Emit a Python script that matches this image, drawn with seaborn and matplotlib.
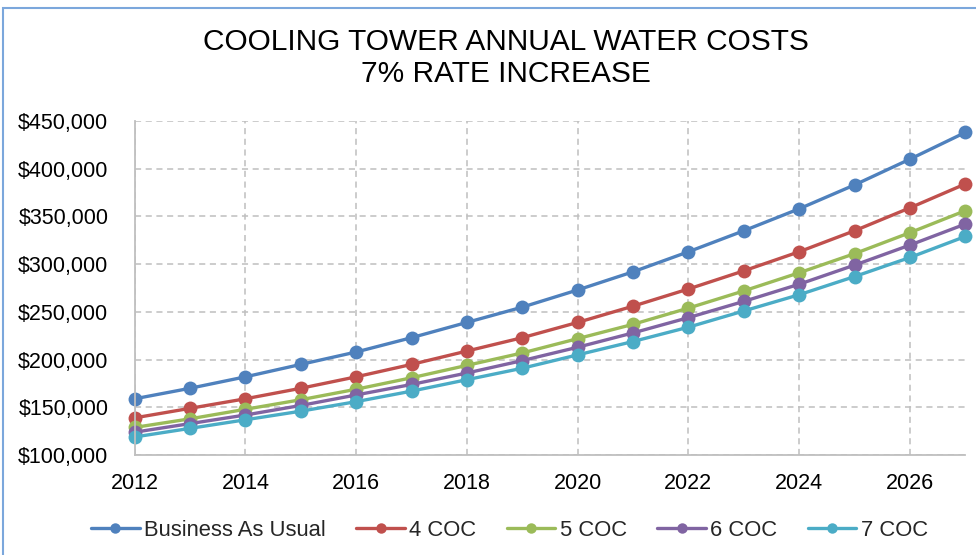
import numpy as np
import pandas as pd
import matplotlib.pyplot as plt
import matplotlib.patches as mpatches
from matplotlib.ticker import FuncFormatter
import seaborn as sns

years = list(range(2012, 2028))
series_names = ["Business As Usual", "4 COC", "5 COC", "6 COC", "7 COC"]
bau = [159000, 170000, 182000, 195000, 208000, 223000, 239000, 255000,
       273000, 292000, 313000, 335000, 358000, 383000, 410000, 438000]
coc4 = [139000, 149000, 159000, 170000, 182000, 195000, 209000, 223000,
        239000, 256000, 274000, 293000, 313000, 335000, 359000, 384000]
coc5 = [129000, 138000, 148000, 158000, 169000, 181000, 194000, 207000,
        222000, 237000, 254000, 272000, 291000, 311000, 333000, 356000]
coc6 = [124000, 133000, 142000, 152000, 163000, 174000, 186000, 199000,
        213000, 228000, 244000, 261000, 279000, 299000, 320000, 342000]
coc7 = [119000, 128000, 137000, 146000, 156000, 167000, 179000, 191000,
        205000, 219000, 234000, 251000, 268000, 287000, 307000, 329000]
colors = ["#4F81BD", "#C0504D", "#9BBB59", "#8064A2", "#4BACC6"]

rows = []
for name, vals in zip(series_names, [bau, coc4, coc5, coc6, coc7]):
    for y, v in zip(years, vals):
        rows.append({"Year": y, "Cost": v, "Series": name})
df = pd.DataFrame(rows)

sns.set_style("white")
plt.rcParams["font.family"] = ["Liberation Sans", "DejaVu Sans"]

fig = plt.figure(figsize=(9.76, 5.55), dpi=100)
ax = fig.add_axes([0.138, 0.180, 0.851, 0.602])

sns.lineplot(data=df, x="Year", y="Cost", hue="Series", hue_order=series_names,
             palette=colors, marker="o", markersize=10, markeredgewidth=0,
             linewidth=2.4, ax=ax, legend=True)

ax.set_xlim(2012, 2027)
ax.set_ylim(100000, 450000)
ax.set_xticks(range(2012, 2027, 2))
ax.set_yticks(range(100000, 450001, 50000))
ax.yaxis.set_major_formatter(FuncFormatter(lambda v, p: f"${v:,.0f}"))
ax.tick_params(axis="y", length=0, pad=19, labelsize=15.5, colors="#000000")
ax.tick_params(axis="x", length=0, pad=13, labelsize=15.5, colors="#000000")
ax.set_xlabel("")
ax.set_ylabel("")
ax.grid(True, color="#BFBFBF", linestyle=(0, (4, 3)), linewidth=1.1)
ax.set_axisbelow(True)
for s in ["top", "right"]:
    ax.spines[s].set_visible(False)
for s in ["left", "bottom"]:
    ax.spines[s].set_color("#BFBFBF")
    ax.spines[s].set_linewidth(1.3)
for line in ax.get_lines():
    line.set_clip_on(False)

fig.text(0.518, 0.896, "COOLING TOWER ANNUAL WATER COSTS\n7% RATE INCREASE",
         fontsize=21.5, ha="center", va="center", linespacing=1.2,
         color="#000000")

handles, labels = ax.get_legend_handles_labels()
ax.legend_.remove()
for h in handles:
    h.set_markersize(7.5)
    h.set_linewidth(2.4)
fig.legend(handles, labels, loc="center", bbox_to_anchor=(0.522, 0.045),
           ncol=5, frameon=False, fontsize=15.8, handlelength=2.2,
           handletextpad=0.2, columnspacing=1.4)

fig.patches.append(mpatches.Rectangle((0.003, -0.1), 1.2, 1.085,
                                      transform=fig.transFigure, fill=False,
                                      edgecolor="#7BA7DC", linewidth=1.5))

fig.savefig("out.png", dpi=100)
